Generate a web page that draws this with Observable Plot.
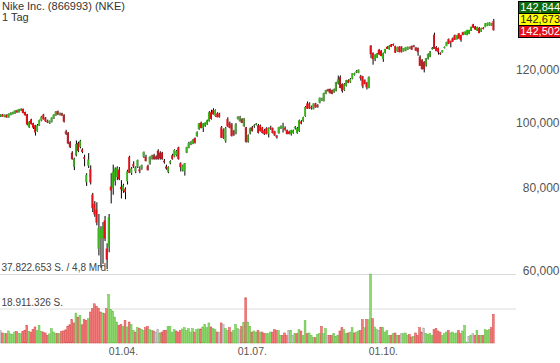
<!DOCTYPE html>
<html><head><meta charset="utf-8">
<script src="https://cdn.jsdelivr.net/npm/d3@7"></script>
<script src="https://cdn.jsdelivr.net/npm/@observablehq/plot@0.6"></script>
<style>
body{margin:0;background:#fff;font-family:"Liberation Sans",Arial,sans-serif;}
#chart{position:relative;width:560px;height:363px;overflow:hidden;background:#fff;}
.ttl{position:absolute;left:2px;font-size:11px;line-height:11px;height:11px;color:#333;white-space:nowrap;}
#quotes{position:absolute;left:518px;top:1px;width:42px;border:1px solid #000;border-right:none;}
#quotes div{height:11px;line-height:11px;font-size:11px;text-align:right;padding-right:1px;}
.layer{position:absolute;left:0;}
</style></head>
<body><div id="chart"></div>
<script>
const titleText = "Nike Inc. (866993) (NKE)";
const periodText = "1 Tag";
const holidays = ["2020-01-20","2020-02-17","2020-04-10","2020-05-25","2020-07-03","2020-09-07","2020-11-26","2020-12-25"];
const tickDates = ["2020-04-01","2020-07-01","2020-10-01"];
const priceTicks = [60, 80, 100, 120];
const quoteValues = [142.844, 142.673, 142.502];
const volumeMax = 37.822653; // million shares
const volumeLabels = ["37.822.653 S. / 4,8 Mrd.", "18.911.326 S."];

const open = [102.3,102.6,102.2,102.5,101.9,102.9,103.2,103.4,104.0,103.7,
104.5,104.6,103.5,102.7,98.5,100.9,99.6,98.9,97.2,99.0,
100.8,102.6,101.5,100.4,100.0,100.3,101.5,102.6,103.8,102.9,
103.1,102.4,96.8,96.4,93.3,90.0,86.0,89.4,93.0,92.0,
91.0,88.6,81.6,86.3,85.0,77.9,75.5,74.0,64.9,67.2,
67.2,71.3,64.7,65.3,80.1,79.9,81.8,83.0,84.9,80.0,
79.2,79.5,81.8,88.7,84.2,86.5,84.7,86.0,85.0,85.5,
89.0,88.7,86.0,87.0,88.5,89.2,88.8,90.6,90.0,90.0,
87.5,85.8,84.4,87.0,89.2,89.0,89.5,91.7,86.8,85.0,
84.7,90.3,91.8,93.1,93.1,94.6,95.6,97.9,99.8,98.3,
98.9,99.5,100.6,103.4,104.2,102.4,103.0,103.0,98.2,97.5,
94.0,101.0,99.8,99.2,97.0,96.4,101.5,100.6,101.0,98.9,
98.2,93.7,96.4,98.2,98.8,99.3,98.9,98.9,98.2,97.2,
97.9,96.3,98.2,97.9,96.8,95.3,96.6,98.2,98.2,98.0,
97.2,96.8,96.3,96.6,98.2,96.6,97.2,100.2,100.6,102.4,
106.6,106.6,105.3,105.0,106.6,106.0,107.2,108.0,107.8,110.5,
111.8,112.0,111.6,111.0,111.6,114.5,116.7,114.0,112.0,113.6,
115.5,115.0,116.4,118.0,119.0,118.8,117.0,117.0,115.5,114.5,
112.8,130.0,126.8,124.6,125.1,128.2,127.8,124.6,127.2,129.5,
128.8,130.6,130.8,129.9,127.9,129.6,129.6,128.0,128.2,128.6,
129.2,129.9,130.0,129.2,129.0,125.2,123.8,123.0,121.7,124.6,
125.5,128.9,135.0,129.5,129.0,126.8,127.5,129.4,130.3,133.0,
132.2,133.4,134.9,133.3,135.7,134.9,136.2,135.6,135.3,135.8,
137.3,139.9,139.0,137.3,138.3,136.8,138.3,139.0,139.7,139.8,
139.7,141.5];
const high = [102.9,103.0,102.8,102.9,103.2,103.6,103.8,104.3,104.5,104.8,
105.0,104.9,103.8,103.0,100.5,101.3,99.9,99.2,99.5,101.0,
102.3,103.0,101.9,101.0,100.7,101.8,102.9,104.0,104.2,103.5,
103.4,102.9,97.5,96.8,93.8,90.6,88.6,94.0,93.6,94.2,
91.5,89.5,84.0,90.0,86.3,78.5,76.3,76.0,73.0,70.0,
71.0,72.5,66.0,73.0,84.0,86.5,85.7,86.0,85.8,82.0,
81.0,80.0,85.0,89.2,85.8,87.5,86.0,88.0,86.0,86.5,
90.5,89.5,86.5,89.0,89.5,89.8,89.3,91.2,90.6,90.4,
88.2,86.5,86.0,87.8,89.8,91.2,91.0,92.0,87.2,86.5,
87.0,92.0,93.6,93.8,94.5,95.0,97.0,99.8,100.3,99.8,
100.0,101.0,104.0,104.5,105.0,104.6,103.6,103.4,98.8,98.0,
98.5,101.8,100.3,99.8,97.5,99.8,102.2,102.3,101.5,101.5,
98.5,96.0,98.3,98.8,99.4,99.8,99.5,99.3,98.5,97.8,
98.4,98.3,98.9,98.3,97.2,95.8,98.5,99.0,99.9,98.7,
97.6,97.2,97.5,97.6,98.8,98.5,101.0,100.8,102.0,105.8,
107.5,107.2,106.0,106.8,107.0,106.5,109.0,108.9,110.8,111.9,
112.3,112.4,112.0,112.4,115.0,117.5,117.6,114.4,114.5,115.8,
116.0,116.5,118.5,118.7,119.8,120.0,117.8,117.4,116.0,115.0,
117.2,130.5,127.3,126.5,127.0,128.8,128.3,127.2,128.8,130.0,
130.4,131.0,131.2,130.2,129.8,130.0,130.0,129.2,129.6,129.8,
129.9,130.3,130.6,129.6,129.4,126.0,124.4,123.5,124.8,126.8,
127.8,129.6,136.2,130.0,129.4,127.3,128.3,129.9,132.0,133.5,
132.5,134.0,135.3,135.0,136.0,135.2,136.6,136.8,137.5,137.5,
139.0,140.4,139.4,139.0,138.8,138.5,138.8,140.8,141.0,141.2,
140.9,142.8];
const low = [101.9,102.0,101.8,101.7,101.7,102.5,102.8,103.0,103.4,103.5,
104.0,103.2,102.4,99.0,98.2,99.3,97.8,95.6,96.9,98.8,
100.4,101.0,100.2,99.8,99.5,100.0,101.2,102.3,102.6,102.4,
102.3,100.0,95.8,92.8,91.6,88.0,84.9,89.0,90.3,91.5,
90.0,86.0,80.4,85.5,80.8,73.5,72.3,70.2,63.3,60.7,
61.5,66.5,60.4,64.0,75.7,78.0,80.5,82.0,82.0,77.0,
78.5,76.8,80.8,84.0,83.5,85.5,84.0,85.5,84.0,85.0,
88.5,87.5,84.8,86.5,88.0,88.0,88.0,88.0,88.0,88.0,
86.8,85.0,84.0,86.6,88.0,88.7,89.0,88.0,84.5,84.5,
83.3,90.0,91.5,92.5,92.8,93.0,95.2,97.5,98.0,96.8,
98.5,99.2,100.3,101.0,102.8,102.0,101.8,101.7,94.8,94.5,
93.3,98.5,98.0,95.3,95.5,96.0,101.0,100.3,99.8,98.5,
93.3,93.3,96.0,97.0,98.2,99.0,96.3,97.0,96.3,95.8,
96.0,95.0,97.5,96.3,95.5,94.6,96.2,97.8,96.6,97.2,
96.0,96.0,95.6,96.2,97.6,96.2,96.8,99.4,100.3,102.0,
104.8,104.8,104.5,104.6,105.2,105.2,106.8,107.7,107.5,110.2,
111.2,110.5,110.2,110.8,111.3,114.0,112.5,110.8,111.5,113.2,
114.5,114.6,116.0,117.5,118.5,118.5,115.5,112.5,114.0,112.0,
112.5,124.8,122.0,123.5,124.8,126.2,125.6,123.2,126.8,128.8,
128.5,129.6,130.2,127.0,127.5,127.3,127.2,127.6,127.8,128.3,
128.8,128.4,129.5,128.0,125.8,121.5,120.0,118.8,121.2,124.2,
125.2,128.5,128.8,127.9,126.3,126.2,127.2,129.0,130.0,131.0,
129.5,132.0,132.8,133.0,133.5,132.0,135.0,135.2,135.0,135.5,
137.0,138.5,137.6,137.0,136.0,136.5,137.8,138.8,139.3,139.5,
139.4,137.2];
const close = [102.6,102.2,102.5,101.9,102.9,103.2,103.4,104.0,103.7,104.5,
104.6,103.5,102.7,99.5,100.1,99.6,98.4,96.8,98.9,100.7,
101.9,101.3,100.6,100.2,100.3,101.5,102.6,103.6,102.9,103.1,
102.6,100.5,96.4,93.2,92.0,88.3,88.2,92.7,90.8,93.8,
90.5,88.4,83.4,87.9,81.5,74.6,73.0,71.0,69.5,69.0,
69.9,67.2,62.5,72.1,79.3,84.2,85.2,85.5,82.4,79.6,
80.4,78.8,84.4,84.2,85.2,86.1,85.5,87.7,84.7,86.2,
90.2,87.7,85.0,88.7,89.2,88.3,88.3,88.3,88.5,88.3,
87.4,85.5,85.7,87.4,88.3,90.8,90.5,88.3,85.9,86.0,
86.8,91.7,93.0,93.2,94.0,93.4,96.5,99.5,98.3,99.5,
99.8,100.6,103.4,101.4,103.0,104.2,102.0,102.0,95.0,95.0,
97.9,98.9,98.3,95.6,96.0,99.2,101.7,101.7,100.0,101.3,
93.7,95.6,97.9,97.2,98.9,99.5,96.6,97.2,96.6,96.2,
96.3,97.9,98.1,96.6,95.8,95.2,98.2,98.6,98.3,97.8,
96.3,96.3,97.2,97.2,98.3,97.9,100.6,99.8,101.7,105.3,
105.0,105.1,105.2,106.6,105.5,105.7,108.6,108.3,110.5,111.6,
111.6,110.8,110.5,112.0,114.7,115.8,112.8,111.6,114.0,115.5,
114.8,116.0,118.3,118.2,119.1,119.7,116.6,113.5,114.4,113.0,
116.7,126.7,124.6,125.9,126.6,126.6,125.9,126.8,128.6,129.0,
130.0,129.9,130.6,127.3,129.4,127.6,127.6,129.0,129.3,129.6,
129.4,128.7,129.9,128.2,127.6,121.7,120.3,120.3,124.6,126.4,
127.6,129.1,129.0,128.0,127.5,126.7,128.1,129.5,131.7,131.2,
131.9,132.2,133.1,134.9,133.6,133.0,135.3,136.5,137.3,137.3,
138.8,138.8,137.9,138.7,136.2,138.2,138.1,140.5,140.6,140.8,
140.5,137.6];
const volume = [6.9,5.5,5.1,5.1,6.6,5.0,4.8,6.0,6.4,5.3,
5.1,6.2,7.0,9.7,6.5,6.0,7.5,8.8,6.8,9.7,
6.4,6.0,5.5,4.2,5.0,7.9,6.0,5.3,5.1,5.3,
6.4,6.6,7.2,9.1,10.0,12.8,11.0,16.4,14.2,15.2,
10.0,13.0,12.4,13.3,17.0,18.8,21.5,20.1,19.1,17.0,
16.5,16.1,18.8,26.7,18.3,17.5,14.2,11.5,9.7,10.2,
9.1,12.4,8.8,11.5,10.2,6.9,6.0,8.4,7.9,7.5,
6.9,8.4,9.1,7.3,6.9,6.6,6.0,7.3,5.5,6.0,
6.9,6.9,9.1,9.1,6.0,7.3,6.6,6.0,6.9,7.7,
8.4,6.9,7.9,6.0,7.9,6.0,7.3,7.7,7.7,8.8,
10.2,8.4,11.0,8.8,7.9,7.3,6.0,6.0,11.0,10.2,
7.9,6.9,8.4,6.0,6.9,10.2,7.9,7.3,9.1,11.3,
24.8,11.5,9.1,6.0,6.6,6.0,6.9,6.0,6.0,5.1,
5.1,5.1,6.0,6.0,7.3,6.9,6.9,4.2,4.2,5.5,
4.2,6.9,6.9,4.2,5.1,5.1,7.3,6.6,4.2,12.4,
5.1,5.5,4.2,2.9,2.9,4.7,5.1,9.1,5.1,7.9,
4.2,4.2,4.2,5.1,3.7,4.2,6.6,8.4,7.3,5.1,
5.5,6.0,8.4,5.5,6.0,6.6,6.9,12.8,8.4,12.8,
12.8,37.8,13.3,8.8,7.3,6.9,8.4,8.4,6.0,6.9,
4.2,4.2,5.1,5.5,4.2,4.2,5.1,5.1,5.5,4.2,
4.7,3.3,3.7,5.5,4.2,8.4,6.0,8.2,5.1,4.7,
5.1,4.2,7.3,7.9,6.6,6.0,4.2,5.1,6.0,6.9,
5.5,6.0,5.1,5.5,6.9,5.1,6.6,9.7,0.5,3.7,
4.2,5.1,4.2,6.9,4.2,4.2,4.2,7.3,6.9,7.3,
8.4,15.7];

const fmtDay = d3.utcFormat("%Y-%m-%d");
const days = d3.utcDays(new Date(Date.UTC(2020,0,6)), new Date(Date.UTC(2021,0,1)))
  .filter(d => { const w = d.getUTCDay(); return w !== 0 && w !== 6 && !holidays.includes(fmtDay(d)); })
  .slice(0, close.length);
const candles = close.map((c, i) => ({
  i, date: days[i], open: open[i], high: high[i], low: low[i], close: c, volume: volume[i],
  prev: i ? close[i - 1] : null
}));
const ticks = tickDates.map(s => { const i = days.findIndex(d => fmtDay(d) === s); return {i, label: d3.utcFormat("%d.%m.")(days[i])}; });

const UP = "#3db51e", DOWN = "#e3101a";
const fmtPrice = d => d3.format(".3f")(d).replace(".", ",");
const xOpts = {type: "linear", domain: [-0.1, 252.1], range: [0, 516], axis: null};
const font = "'Liberation Sans', Arial, sans-serif";

const chart = document.getElementById("chart");

const volPlot = Plot.plot({
  width: 560, height: 108, margin: 0,
  x: xOpts,
  y: {domain: [0, volumeMax], range: [88, 19], axis: null},
  color: {type: "identity"},
  style: {background: "transparent", fontFamily: font, overflow: "visible"},
  marks: [
    Plot.ruleY([volumeMax, volumeMax / 2], {x1: -0.1, x2: 252.1, stroke: "#dcdcdc", strokeWidth: 1}),
    Plot.rect(candles, {
      x1: d => d.i - 0.45, x2: d => d.i + 0.45, y1: 0, y2: "volume",
      fill: d => d.prev == null || d.close === d.prev ? "#c8c8c8" : d.close > d.prev ? "#8fd771" : "#f07b7b",
      stroke: d => d.prev == null || d.close === d.prev ? "#aaaaaa" : d.close > d.prev ? "#62bf45" : "#d94a4a",
      strokeWidth: 0.5
    }),
    Plot.text([volumeMax, volumeMax / 2], {
      y: d => d, text: (d, i) => volumeLabels[i], frameAnchor: "left", dx: 1, dy: -6.5,
      textAnchor: "start", fontSize: 10, fill: "#444"
    }),
    Plot.text(ticks, {x: "i", text: "label", frameAnchor: "bottom", dy: -9, fontSize: 10.5, fill: "#555"})
  ]
});
volPlot.classList.add("layer");
volPlot.style.top = "255px";
chart.appendChild(volPlot);

const pricePlot = Plot.plot({
  width: 560, height: 275, margin: 0,
  x: xOpts,
  y: {type: "log", domain: [60, 152.4], range: [271, 0], axis: null},
  color: {type: "identity"},
  style: {background: "transparent", fontFamily: font, overflow: "visible"},
  marks: [
    Plot.ruleX(candles, {x: "i", y1: "low", y2: "high", stroke: "#000", strokeWidth: 1}),
    Plot.rect(candles, {
      x1: d => d.i - 0.45, x2: d => d.i + 0.45,
      y1: d => Math.min(d.open, d.close), y2: d => Math.max(d.open, d.close),
      fill: d => d.close >= d.open ? UP : DOWN, insetTop: -0.5, insetBottom: -0.5
    }),
    Plot.text(priceTicks, {
      y: d => d, text: fmtPrice, frameAnchor: "right", dx: -1, textAnchor: "end",
      fontSize: 12, fill: "#555"
    })
  ]
});
pricePlot.classList.add("layer");
pricePlot.style.top = "0px";
chart.appendChild(pricePlot);

[titleText, periodText].forEach((t, k) => {
  const el = document.createElement("div");
  el.className = "ttl";
  el.style.top = (1 + k * 11) + "px";
  el.textContent = t;
  chart.appendChild(el);
});

const quoteStyles = [{bg: "#0b6b0b", fg: "#fff"}, {bg: "#ffff00", fg: "#222"}, {bg: "#e3101a", fg: "#fff"}];
const quotes = document.createElement("div");
quotes.id = "quotes";
quoteValues.forEach((v, k) => {
  const q = document.createElement("div");
  q.textContent = fmtPrice(v);
  q.style.background = quoteStyles[k].bg;
  q.style.color = quoteStyles[k].fg;
  if (k < quoteValues.length - 1) q.style.borderBottom = "1px solid #000";
  quotes.appendChild(q);
});
chart.appendChild(quotes);
</script></body></html>
